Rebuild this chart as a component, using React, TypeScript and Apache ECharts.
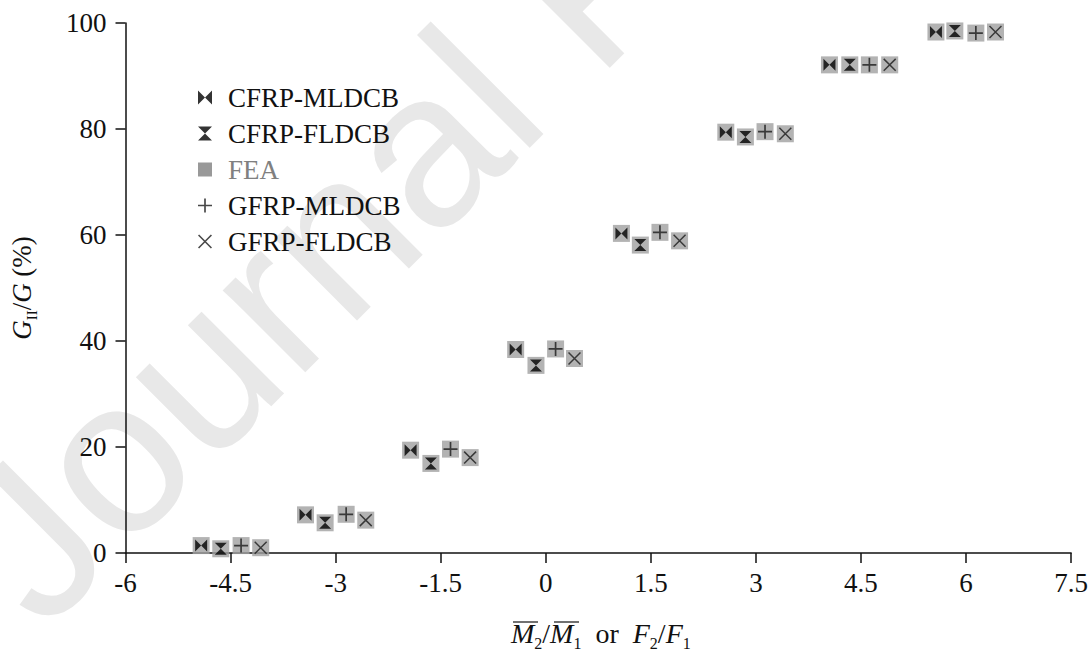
import React, { useEffect, useRef } from "react";
import * as echarts from "echarts";

// ---- data ----
const cfrpMlX = [-4.92, -3.43, -1.93, -0.43, 1.08, 2.57, 4.05, 5.57];
const cfrpMlY = [1.4, 7.2, 19.4, 38.4, 60.3, 79.4, 92.1, 98.3];
const cfrpFlX = [-4.64, -3.15, -1.64, -0.14, 1.35, 2.85, 4.34, 5.84];
const cfrpFlY = [0.8, 5.7, 16.9, 35.4, 58.1, 78.5, 92.1, 98.5];
const gfrpMlX = [-4.35, -2.85, -1.36, 0.14, 1.63, 3.13, 4.62, 6.14];
const gfrpMlY = [1.4, 7.3, 19.6, 38.5, 60.5, 79.5, 92.1, 98.1];
const gfrpFlX = [-4.07, -2.57, -1.08, 0.41, 1.91, 3.42, 4.91, 6.42];
const gfrpFlY = [1.0, 6.2, 18.0, 36.7, 58.9, 79.1, 92.1, 98.3];
// FEA predictions coincide with the measured points (grey squares behind)
const feaX = [...cfrpMlX, ...cfrpFlX, ...gfrpMlX, ...gfrpFlX];
const feaY = [...cfrpMlY, ...cfrpFlY, ...gfrpMlY, ...gfrpFlY];

const xTicks = { min: -6, max: 7.5, interval: 1.5 };
const yTicks = { min: 0, max: 100, interval: 20 };

const FONT = "Liberation Serif";
const FS = 27;

const SYM_BOWTIE = "path://M0,0L5,5L0,10ZM10,0L5,5L10,10Z";
const SYM_HOURGLASS = "path://M0,0L10,0L5,5ZM0,10L10,10L5,5Z";
const SYM_PLUS = "path://M4.4,0H5.6V10H4.4ZM0,4.4H10V5.6H0Z";
const SYM_CROSS = "path://M0,0.8L0.8,0L10,9.2L9.2,10ZM9.2,0L10,0.8L0.8,10L0,9.2Z";
const SYM_SQUARE = "path://M0,0H10V10H0Z";

const zip = (xs: number[], ys: number[]) => xs.map((x, i) => [x, ys[i]]);

export default function App() {
  const ref = useRef<HTMLDivElement>(null);
  useEffect(() => {
    if (!ref.current) return;
    const chart = echarts.init(ref.current, null, { renderer: "svg" });
    const mk = (name: string, xs: number[], ys: number[], symbol: string, size: number, color: string, z: number) => ({
      name,
      type: "scatter",
      data: zip(xs, ys),
      symbol,
      symbolSize: size,
      itemStyle: { color },
      z,
      emphasis: { disabled: true },
    });
    chart.setOption({
      animation: false,
      backgroundColor: "#ffffff",
      textStyle: { fontFamily: FONT },
      grid: { left: 120, right: 19, top: 23, bottom: 105, containLabel: false },
      legend: {
        orient: "vertical",
        left: 193,
        top: 79,
        itemWidth: 30,
        itemHeight: 14,
        itemGap: 9,
        symbolKeepAspect: true,
        textStyle: { fontFamily: FONT, fontSize: FS, color: "#111", padding: [0, 0, 0, 3] },
        data: [
          { name: "CFRP-MLDCB" },
          { name: "CFRP-FLDCB" },
          { name: "FEA", itemStyle: { color: "#808080" }, textStyle: { color: "#808080" } },
          { name: "GFRP-MLDCB" },
          { name: "GFRP-FLDCB" },
        ],
      },
      xAxis: {
        type: "value",
        min: xTicks.min,
        max: xTicks.max,
        interval: xTicks.interval,
        splitLine: { show: false },
        axisLine: { onZero: false, lineStyle: { color: "#111", width: 1.5 } },
        axisTick: { inside: false, length: 10, lineStyle: { color: "#111", width: 1.5 } },
        axisLabel: { fontFamily: FONT, fontSize: FS, color: "#111", margin: 16 },
      },
      yAxis: {
        type: "value",
        min: yTicks.min,
        max: yTicks.max,
        interval: yTicks.interval,
        splitLine: { show: false },
        axisLine: { show: true, onZero: false, lineStyle: { color: "#111", width: 1.5 } },
        axisTick: { show: true, inside: false, length: 10, lineStyle: { color: "#111", width: 1.5 } },
        axisLabel: { fontFamily: FONT, fontSize: FS, color: "#111", margin: 19 },
        name: "{gi|G}{sub|II}{n|/}{gi|G}{n| (%)}",
        nameLocation: "middle",
        nameGap: 86,
        nameRotate: 90,
        nameTextStyle: {
          fontFamily: FONT,
          fontSize: FS,
          color: "#111",
          rich: {
            gi: { fontFamily: FONT, fontSize: FS, fontStyle: "italic", lineHeight: 36, verticalAlign: "middle" },
            n: { fontFamily: FONT, fontSize: FS, lineHeight: 36, verticalAlign: "middle" },
            sub: { fontFamily: FONT, fontSize: 15, lineHeight: 36, verticalAlign: "bottom" },
          },
        },
      },
      graphic: [
        {
          type: "text",
          x: -10,
          y: 580,
          rotation: Math.PI / 4,
          z: -10,
          silent: true,
          style: {
            text: "Journal Pre-proof",
            font: "220px Liberation Sans",
            fill: "#e8e8e8",
            verticalAlign: "middle",
          },
        },
        {
          type: "text",
          left: 511,
          top: 619,
          style: {
            text: "{mi|M}{sub|2}{n|/}{mi|M}{sub|1}{n|  or  }{mi|F}{sub|2}{n|/}{mi|F}{sub|1}",
            fill: "#111",
            rich: {
              mi: { fontFamily: FONT, fontSize: 28, fontStyle: "italic", lineHeight: 36, verticalAlign: "middle" },
              n: { fontFamily: FONT, fontSize: 28, lineHeight: 36, verticalAlign: "middle" },
              sub: { fontFamily: FONT, fontSize: 16, lineHeight: 36, verticalAlign: "bottom" },
            },
          },
        },
        { type: "line", shape: { x1: 513, y1: 622, x2: 538, y2: 622 }, style: { stroke: "#111", lineWidth: 1.2 } },
        { type: "line", shape: { x1: 554, y1: 622, x2: 579, y2: 622 }, style: { stroke: "#111", lineWidth: 1.2 } },
      ],
      series: [
        mk("FEA", feaX, feaY, SYM_SQUARE, 17, "#a0a0a0", 1),
        mk("CFRP-MLDCB", cfrpMlX, cfrpMlY, SYM_BOWTIE, 12, "#000", 5),
        mk("CFRP-FLDCB", cfrpFlX, cfrpFlY, SYM_HOURGLASS, 12, "#000", 5),
        mk("GFRP-MLDCB", gfrpMlX, gfrpMlY, SYM_PLUS, 14, "#1a1a1a", 5),
        mk("GFRP-FLDCB", gfrpFlX, gfrpFlY, SYM_CROSS, 13, "#1a1a1a", 5),
      ],
    });
    return () => chart.dispose();
  }, []);
  return <div ref={ref} style={{ position: "fixed", left: 0, top: 0, width: 1091, height: 658 }} />;
}
